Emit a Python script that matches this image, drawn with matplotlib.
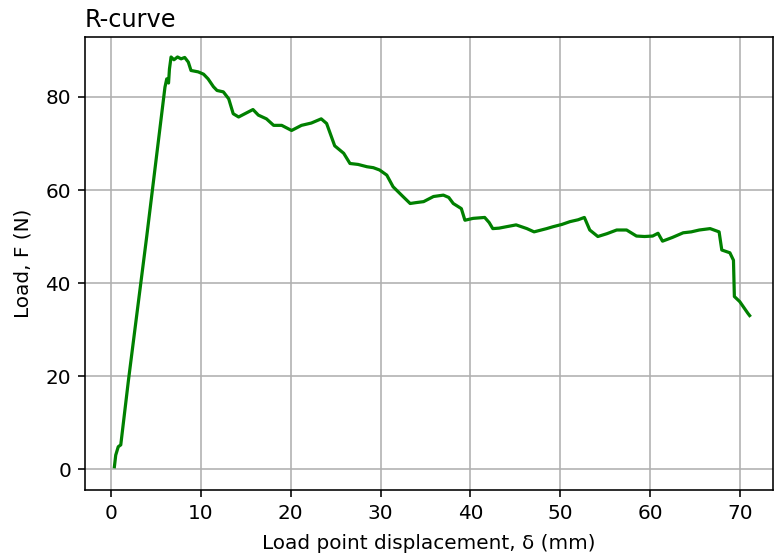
import numpy as np
import matplotlib.pyplot as plt

# load-displacement readings
delta = [0.37, 0.52, 0.8, 1.08, 1.93, 3.97, 6.0, 6.2, 6.4, 6.5, 6.68, 7.0, 7.4, 7.8,
         8.2, 8.6, 8.9, 9.7, 10.3, 10.8, 11.4, 11.8, 12.5, 13.1, 13.6, 14.2, 14.9,
         15.8, 16.4, 17.3, 18.1, 19.0, 20.1, 21.2, 22.3, 23.4, 24.0, 24.9, 25.9,
         26.6, 27.5, 28.5, 29.2, 29.9, 30.7, 31.4, 32.5, 33.3, 34.0, 34.8, 35.9,
         37.0, 37.6, 38.1, 39.0, 39.4, 40.3, 41.6, 42.1, 42.5, 43.2, 44.0, 45.1,
         46.3, 47.1, 48.5, 49.2, 50.2, 51.1, 52.0, 52.7, 53.3, 54.2, 55.2, 56.3,
         57.4, 58.5, 59.4, 60.3, 60.9, 61.4, 62.5, 63.7, 64.6, 65.5, 66.7, 67.7,
         68.0, 68.9, 69.3, 69.4, 70.0, 70.9, 71.1]
load = [0.5, 3.0, 4.8, 5.2, 19.0, 50.0, 82.1, 83.9, 83.0, 86.0, 88.6, 88.0, 88.6, 88.2,
        88.5, 87.5, 85.7, 85.4, 84.9, 83.9, 82.2, 81.4, 81.1, 79.6, 76.4, 75.7, 76.4,
        77.3, 76.1, 75.3, 73.9, 73.9, 72.8, 73.9, 74.4, 75.3, 74.3, 69.5, 67.9,
        65.7, 65.5, 65.0, 64.8, 64.3, 63.2, 60.7, 58.6, 57.1, 57.3, 57.5, 58.6,
        58.9, 58.4, 57.1, 56.0, 53.5, 53.9, 54.1, 53.0, 51.7, 51.8, 52.1, 52.5,
        51.7, 51.0, 51.7, 52.1, 52.6, 53.2, 53.6, 54.1, 51.4, 50.0, 50.6, 51.4,
        51.4, 50.1, 50.0, 50.1, 50.7, 49.0, 49.8, 50.8, 51.0, 51.4, 51.7, 51.0,
        47.1, 46.5, 44.9, 37.1, 36.0, 33.5, 33.0]

fig = plt.figure(figsize=(775 / 144, 557 / 144), dpi=144)
ax = fig.add_axes([0.1097, 0.1203, 0.8877, 0.8133])

ax.plot(delta, load, color='g', linewidth=1.6)

ax.set_xlim(-2.9, 73.7)
ax.set_ylim(-4.5, 92.9)
ax.set_title('R-curve', loc='left', pad=5)
ax.set_xlabel('Load point displacement, δ (mm)', labelpad=5.5)
ax.set_ylabel('Load, F (N)', labelpad=6.5)
ax.grid(True)

fig.savefig('out.png', dpi=144)
